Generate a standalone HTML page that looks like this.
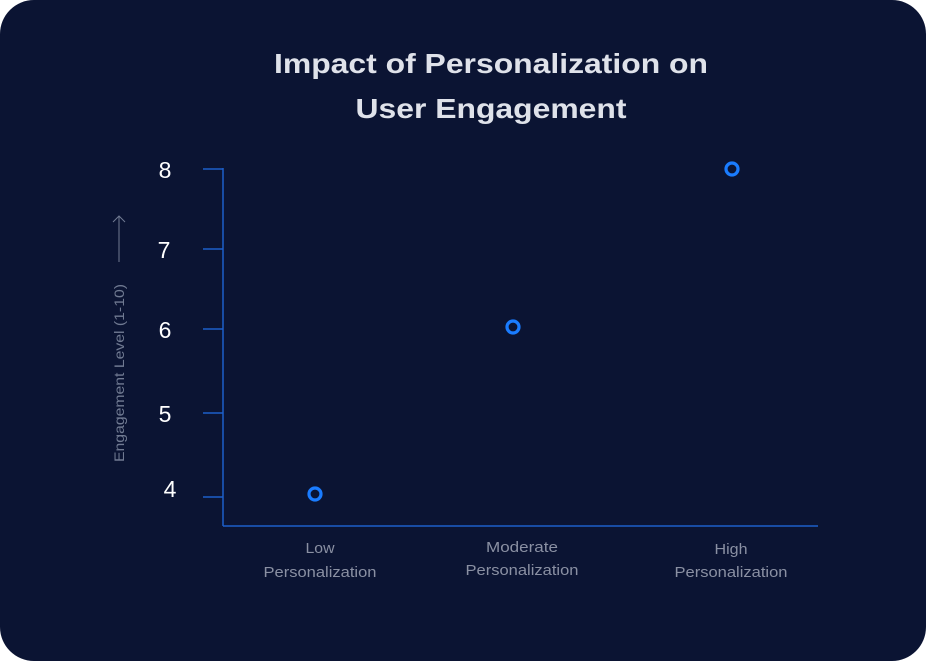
<!DOCTYPE html>
<html><head><style>
html,body{margin:0;padding:0;background:#fff;}
.card{position:absolute;left:0;top:0;width:926px;height:661px;background:#0b1433;border-radius:34px;overflow:hidden;font-family:"Liberation Sans",sans-serif;}
</style></head><body>
<div class="card">
<svg width="926" height="661" xmlns="http://www.w3.org/2000/svg">
<text x="491" y="73" text-anchor="middle" fill="#dfe2ea" font-size="28" font-weight="bold" font-family="Liberation Sans, sans-serif" textLength="434" lengthAdjust="spacingAndGlyphs">Impact of Personalization on</text>
<text x="491" y="118" text-anchor="middle" fill="#dfe2ea" font-size="28" font-weight="bold" font-family="Liberation Sans, sans-serif" textLength="271" lengthAdjust="spacingAndGlyphs">User Engagement</text>
<g stroke="#1d5fc9" stroke-width="1.5" fill="none">
<line x1="223" y1="168" x2="223" y2="526"/>
<line x1="223" y1="526" x2="818" y2="526"/>
<line x1="203" y1="169" x2="223" y2="169"/>
<line x1="203" y1="249" x2="223" y2="249"/>
<line x1="203" y1="329" x2="223" y2="329"/>
<line x1="203" y1="413" x2="223" y2="413"/>
<line x1="203" y1="497" x2="223" y2="497"/>
</g>
<g fill="#ffffff" font-size="23" text-anchor="middle" font-family="Liberation Sans, sans-serif">
<text x="165" y="178">8</text>
<text x="164" y="258">7</text>
<text x="165" y="338">6</text>
<text x="165" y="422">5</text>
<text x="170" y="497">4</text>
</g>
<g transform="translate(124,338) rotate(-90)">
<text x="-124" y="0" fill="#707a92" font-size="14" font-family="Liberation Sans, sans-serif" textLength="178" lengthAdjust="spacingAndGlyphs">Engagement Level (1-10)</text>
<line x1="76" y1="-5" x2="122" y2="-5" stroke="#707a92" stroke-width="1"/>
<path d="M116,-11 L122,-5 L116,1" stroke="#707a92" stroke-width="1" fill="none"/>
</g>
<g fill="#8a90a3" font-size="14.5" text-anchor="middle" font-family="Liberation Sans, sans-serif">
<text x="320" y="553" textLength="29" lengthAdjust="spacingAndGlyphs">Low</text>
<text x="320" y="577" textLength="113" lengthAdjust="spacingAndGlyphs">Personalization</text>
<text x="522" y="552" textLength="72" lengthAdjust="spacingAndGlyphs">Moderate</text>
<text x="522" y="575" textLength="113" lengthAdjust="spacingAndGlyphs">Personalization</text>
<text x="731" y="554" textLength="33" lengthAdjust="spacingAndGlyphs">High</text>
<text x="731" y="577" textLength="113" lengthAdjust="spacingAndGlyphs">Personalization</text>
</g>
<g fill="none" stroke="#1a7cff" stroke-width="3.2">
<circle cx="315" cy="494" r="6"/>
<circle cx="513" cy="327" r="6"/>
<circle cx="732" cy="169" r="6"/>
</g>
</svg>
</div>
</body></html>
